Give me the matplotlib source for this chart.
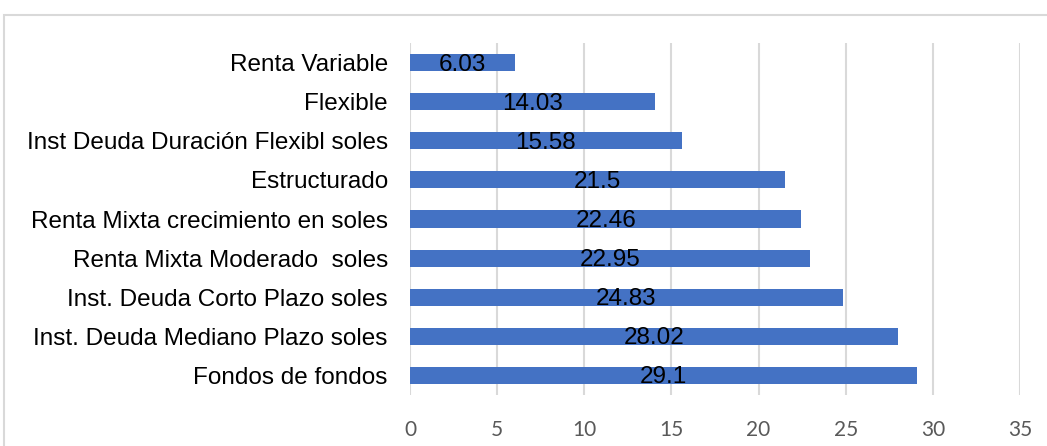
import matplotlib.pyplot as plt
from matplotlib.patches import Rectangle

plt.rcParams['font.family'] = ['Liberation Sans', 'DejaVu Sans']

categories = ['Renta Variable', 'Flexible', 'Inst Deuda Duración Flexibl soles',
              'Estructurado', 'Renta Mixta crecimiento en soles',
              'Renta Mixta Moderado  soles', 'Inst. Deuda Corto Plazo soles',
              'Inst. Deuda Mediano Plazo soles', 'Fondos de fondos']
values = [6.03, 14.03, 15.58, 21.5, 22.46, 22.95, 24.83, 28.02, 29.1]
labels = ['6.03', '14.03', '15.58', '21.5', '22.46', '22.95', '24.83', '28.02', '29.1']
xticks = [0, 5, 10, 15, 20, 25, 30, 35]

fig = plt.figure(figsize=(10.47, 4.46), dpi=100)
ax = fig.add_axes([0.3916, 0.1143, 0.5826, 0.7893])

# chart area border (cropped on right and bottom)
fig.patches.append(Rectangle((0.004, -0.1), 1.2, 1.066, transform=fig.transFigure,
                             fill=False, edgecolor='#d9d9d9', linewidth=1.5))

ypos = list(range(len(categories)))
ax.barh(ypos, values, height=0.44, color='#4472c4', zorder=3)
for y, v, lab in zip(ypos, values, labels):
    ax.text(v / 2, y + 0.05, lab, ha='center', va='center', fontsize=17.5,
            color='black', zorder=4)

ax.set_yticks(ypos)
ax.set_yticklabels(categories, fontsize=17.5, color='black')
ax.set_ylim(len(categories) - 0.5, -0.5)
ax.set_xlim(0, 35)
ax.set_xticks(xticks)
ax.set_xticklabels([str(t) for t in xticks], fontsize=15, color='#595959',
                   family=['Lato', 'DejaVu Sans'])
ax.tick_params(axis='both', length=0)
ax.tick_params(axis='x', pad=18)
ax.tick_params(axis='y', pad=16)
ax.grid(axis='x', color='#d9d9d9', linewidth=1.5, zorder=0)
for s in ax.spines.values():
    s.set_visible(False)

fig.savefig('out.png', dpi=100)
